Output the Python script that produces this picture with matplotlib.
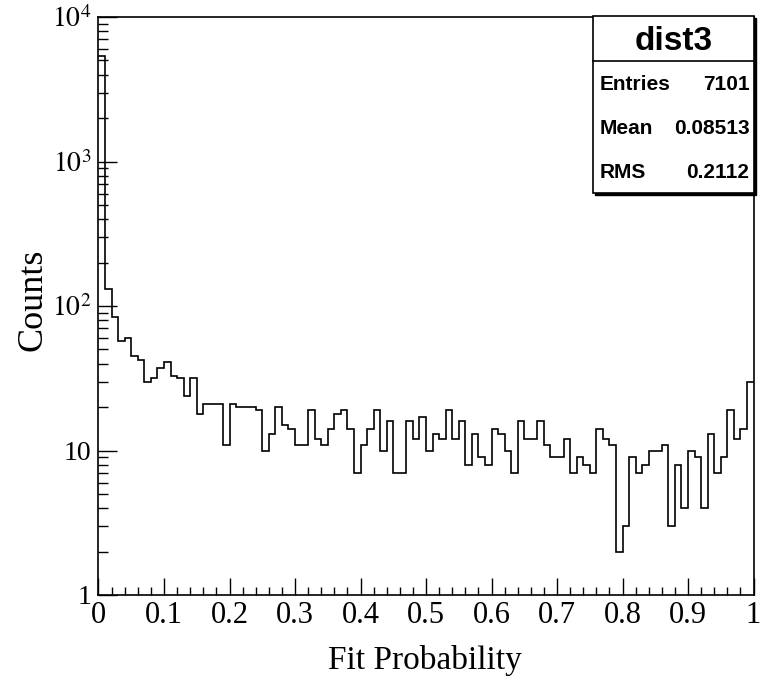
import numpy as np
import matplotlib
matplotlib.use("Agg")
import matplotlib.pyplot as plt
from matplotlib.patches import Rectangle

# histogram contents, 100 bins from 0 to 1
counts = [5361, 131, 84, 57, 60, 45, 42, 30, 32, 37,
          41, 33, 32, 24, 32, 18, 21, 21, 21, 11,
          21, 20, 20, 20, 19, 10, 13, 20, 15, 14,
          11, 11, 19, 12, 11, 14, 18, 19, 14, 7,
          11, 14, 19, 10, 16, 7, 7, 16, 12, 17,
          10, 13, 12, 19, 12, 16, 8, 13, 9, 8,
          14, 13, 10, 7, 16, 12, 12, 16, 11, 9,
          9, 12, 7, 9, 8, 7, 14, 12, 11, 2,
          3, 9, 7, 8, 10, 10, 11, 3, 8, 4,
          10, 9, 4, 13, 7, 9, 19, 12, 14, 30]

x_ticks = [0, 0.1, 0.2, 0.3, 0.4, 0.5, 0.6, 0.7, 0.8, 0.9, 1]
x_labels = ["0", "0.1", "0.2", "0.3", "0.4", "0.5", "0.6", "0.7", "0.8", "0.9", "1"]
y_ticks = [1, 10, 100, 1000, 10000]
y_labels = ["1", "10", "$10^{2}$", "$10^{3}$", "$10^{4}$"]

hist_name = "dist3"
stats_names = ["Entries", "Mean", "RMS"]
stats_values = ["7101", "0.08513", "0.2112"]

plt.rcParams["font.family"] = ["Liberation Serif", "DejaVu Serif"]
plt.rcParams["mathtext.fontset"] = "stix"

fig = plt.figure(figsize=(7.69, 6.87), dpi=100)
ax = fig.add_axes([98.5 / 769, 92 / 687, (753.5 - 98.5) / 769, (595 - 17) / 687])

edges = np.linspace(0, 1, len(counts) + 1)
ax.stairs(counts, edges, baseline=None, color="black", linewidth=1.2)

ax.set_yscale("log")
ax.set_xlim(0, 1)
ax.set_ylim(1, 10000)

ax.set_xticks(x_ticks)
ax.set_xticklabels(x_labels)
ax.set_xticks(np.arange(0, 1.0001, 0.02), minor=True)
ax.set_yticks(y_ticks)
ax.set_yticklabels(y_labels)
ax.yaxis.set_minor_locator(matplotlib.ticker.LogLocator(base=10, subs=np.arange(2, 10)))
ax.yaxis.set_minor_formatter(matplotlib.ticker.NullFormatter())

ax.tick_params(which="both", direction="in", top=False, right=False, colors="black")
ax.tick_params(axis="x", which="major", length=12, width=1, labelsize=22, pad=4)
ax.tick_params(axis="x", which="minor", length=6, width=1)
ax.tick_params(axis="y", which="major", length=14, width=1, labelsize=20, pad=5)
ax.tick_params(axis="y", which="minor", length=7, width=1)

for s in ax.spines.values():
    s.set_linewidth(1.2)

fig.text(425 / 769, 1 - 660 / 687, "Fit Probability", fontsize=24,
         ha="center", va="center")
fig.text(33 / 769, 1 - 300 / 687, "Counts", fontsize=26, rotation=90,
         ha="center", va="center")

# stats box
bx0, bx1 = 593 / 769, 753.5 / 769
by0, by1 = 1 - 193 / 687, 1 - 16 / 687
shadow = Rectangle((bx0 + 2 / 769, by0 - 2 / 687), bx1 - bx0, by1 - by0,
                   transform=fig.transFigure, facecolor="black", edgecolor="black", zorder=5)
box = Rectangle((bx0, by0), bx1 - bx0, by1 - by0, transform=fig.transFigure,
                facecolor="white", edgecolor="black", linewidth=1.2, zorder=6)
fig.patches.extend([shadow, box])
sep_y = 1 - 61 / 687
fig.add_artist(plt.Line2D([bx0, bx1], [sep_y, sep_y], transform=fig.transFigure,
                          color="black", linewidth=1.2, zorder=7))

sans = ["Liberation Sans Narrow", "Liberation Sans", "DejaVu Sans"]
fig.text((bx0 + bx1) / 2, 1 - 42 / 687, hist_name, family=sans, weight="bold",
         fontsize=24, ha="center", va="center", zorder=8)
row_y = [84, 128, 172]
for name, val, yy in zip(stats_names, stats_values, row_y):
    fig.text(bx0 + 7 / 769, 1 - yy / 687, name, family=sans, weight="bold",
             fontsize=15, ha="left", va="center", zorder=8)
    fig.text(bx1 - 4 / 769, 1 - yy / 687, val, family=sans, weight="bold",
             fontsize=15, ha="right", va="center", zorder=8)

fig.savefig("out.png", dpi=100, facecolor="white")
